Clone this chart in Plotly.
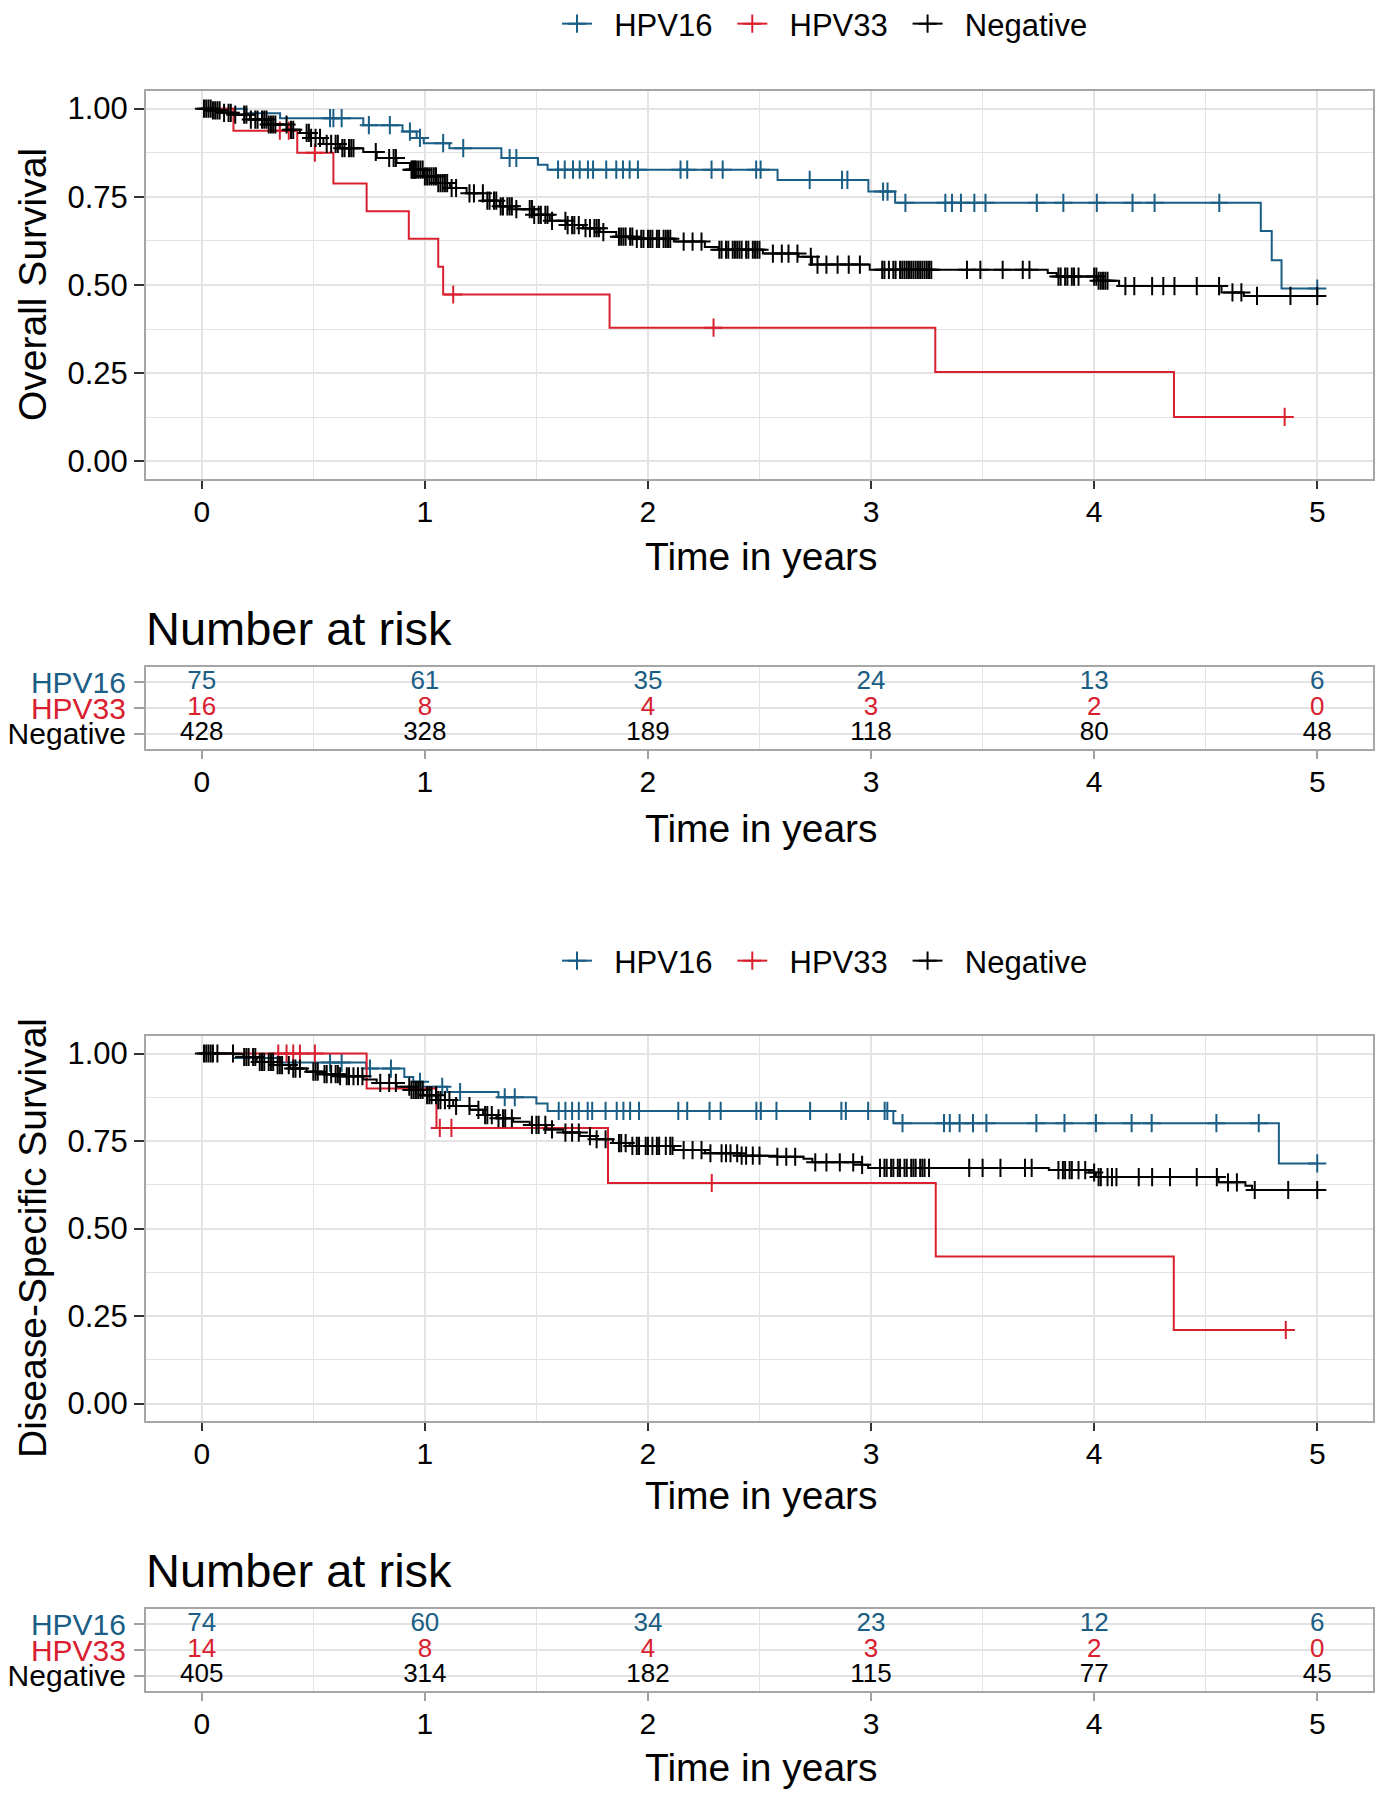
import numpy as np
import plotly.graph_objects as go

# page is photographed with the browser's 8px body margin, so the figure is
# sized to fit inside it and all page positions are converted with OFF.
PAGE_W, PAGE_H = 1386, 1800
OFF = 8
W, H = PAGE_W - 2 * OFF, PAGE_H - 2 * OFF
FONT = "Liberation Sans, Arial, Helvetica, sans-serif"

GROUPS = ["HPV16", "HPV33", "Negative"]
COLORS = {"HPV16": "#1A5E85", "HPV33": "#D9202F", "Negative": "#000000"}

# ---------------- Overall survival ----------------
os_hpv16_t = [0, 0.20, 0.351, 0.724, 0.90, 0.963, 0.995, 1.11, 1.343, 1.507, 1.55,
              2.581, 2.988, 3.108, 4.747, 4.796, 4.84, 5.0]
os_hpv16_s = [1.0, 0.987, 0.973, 0.953, 0.935, 0.917, 0.902, 0.888, 0.86, 0.841, 0.827,
              0.798, 0.765, 0.733, 0.653, 0.57, 0.49, 0.49]
os_hpv16_cens = [0.575, 0.59, 0.627, 0.749, 0.843, 0.933, 0.978, 1.082, 1.172, 1.38, 1.41,
                 1.597, 1.627, 1.664, 1.694, 1.731, 1.754, 1.813, 1.858, 1.888, 1.918, 1.955,
                 2.146, 2.176, 2.285, 2.335, 2.485, 2.505, 2.725, 2.87, 2.894, 3.054, 3.074,
                 3.154, 3.333, 3.363, 3.403, 3.463, 3.513, 3.743, 3.862, 4.012, 4.172, 4.271,
                 4.561, 5.0]

os_hpv33_t = [0, 0.142, 0.428, 0.59, 0.739, 0.928, 1.06, 1.082, 1.828, 3.288, 4.358, 4.854]
os_hpv33_s = [1.0, 0.9375, 0.875, 0.7875, 0.709, 0.631, 0.552, 0.473, 0.379, 0.253, 0.126, 0.126]
os_hpv33_cens = [0.35, 0.39, 0.507, 1.127, 2.294, 4.854]

os_neg_t = [0, 0.05, 0.10, 0.142, 0.216, 0.291, 0.381, 0.44, 0.485, 0.545, 0.619, 0.724,
            0.784, 0.873, 0.933, 0.993, 1.052, 1.112, 1.187, 1.261, 1.336, 1.41, 1.485,
            1.56, 1.634, 1.709, 1.784, 1.858, 1.933, 2.116, 2.255, 2.315, 2.515, 2.675,
            2.735, 2.994, 3.792, 3.832, 4.012, 4.112, 4.571, 4.671, 5.0]
os_neg_s = [1.0, 0.995, 0.988, 0.983, 0.969, 0.955, 0.940, 0.931, 0.917, 0.90, 0.888, 0.877,
            0.86, 0.846, 0.827, 0.808, 0.789, 0.775, 0.76, 0.739, 0.723, 0.715, 0.699,
            0.682, 0.67, 0.661, 0.65, 0.637, 0.631, 0.623, 0.608, 0.60, 0.589, 0.58,
            0.558, 0.543, 0.534, 0.524, 0.512, 0.497, 0.479, 0.469, 0.469]
os_neg_cens = [0.01, 0.02, 0.03, 0.04, 0.05, 0.06, 0.07, 0.08, 0.10, 0.12, 0.13, 0.15, 0.19,
               0.20, 0.22, 0.24, 0.25, 0.27, 0.28, 0.29, 0.30, 0.31, 0.32, 0.33, 0.38, 0.40,
               0.41, 0.47, 0.48, 0.49, 0.51, 0.53, 0.56, 0.58, 0.60, 0.61, 0.63, 0.64, 0.66,
               0.67, 0.68, 0.78, 0.84, 0.86, 0.87, 0.94, 0.945, 0.95, 0.955, 0.96, 0.97, 0.98,
               0.99, 1.0, 1.01, 1.02, 1.03, 1.04, 1.05, 1.06, 1.07, 1.08, 1.09, 1.10, 1.12,
               1.14, 1.20, 1.22, 1.26, 1.28, 1.29, 1.31, 1.32, 1.34, 1.35, 1.37, 1.38, 1.39,
               1.41, 1.47, 1.48, 1.49, 1.51, 1.52, 1.54, 1.55, 1.57, 1.63, 1.64, 1.66, 1.67,
               1.69, 1.72, 1.74, 1.76, 1.77, 1.78, 1.80, 1.87, 1.88, 1.89, 1.90, 1.92, 1.93,
               1.95, 1.97, 1.98, 2.0, 2.01, 2.02, 2.04, 2.05, 2.07, 2.08, 2.09, 2.10, 2.16,
               2.20, 2.24, 2.32, 2.33, 2.35, 2.36, 2.38, 2.39, 2.40, 2.41, 2.42, 2.44, 2.45,
               2.47, 2.48, 2.49, 2.50, 2.56, 2.60, 2.63, 2.67, 2.73, 2.76, 2.80, 2.85, 2.90,
               2.95, 3.05, 3.06, 3.08, 3.10, 3.11, 3.13, 3.14, 3.15, 3.16, 3.17, 3.18, 3.19,
               3.20, 3.21, 3.22, 3.23, 3.24, 3.25, 3.26, 3.27, 3.43, 3.49, 3.59, 3.68, 3.71,
               3.84, 3.85, 3.87, 3.88, 3.90, 3.91, 3.93, 4.0, 4.01, 4.02, 4.03, 4.04, 4.05,
               4.06, 4.14, 4.18, 4.26, 4.31, 4.36, 4.46, 4.56, 4.62, 4.66, 4.73, 4.88, 5.0]

# ---------------- Disease-specific survival ----------------
dss_hpv16_t = [0, 0.14, 0.35, 0.737, 0.908, 0.948, 0.99, 1.10, 1.33, 1.50, 1.55, 3.10, 4.828, 5.0]
dss_hpv16_s = [1.0, 0.987, 0.974, 0.957, 0.933, 0.919, 0.905, 0.89, 0.875, 0.857, 0.836,
               0.801, 0.686, 0.686]
dss_hpv16_cens = [0.575, 0.627, 0.754, 0.848, 0.978, 1.078, 1.158, 1.358, 1.403, 1.60, 1.63,
                  1.66, 1.69, 1.73, 1.75, 1.81, 1.86, 1.89, 1.92, 1.96, 2.136, 2.176, 2.276,
                  2.326, 2.486, 2.506, 2.576, 2.727, 2.867, 2.887, 2.987, 3.061, 3.073, 3.141,
                  3.327, 3.353, 3.397, 3.457, 3.517, 3.741, 3.867, 4.008, 4.168, 4.258, 4.548,
                  4.738, 5.0]

dss_hpv33_t = [0, 0.739, 1.052, 1.821, 3.29, 4.357, 4.859]
dss_hpv33_s = [1.0, 0.9, 0.7875, 0.63, 0.42, 0.21, 0.21]
dss_hpv33_cens = [0.343, 0.38, 0.41, 0.44, 0.507, 1.067, 1.119, 2.286, 4.859]

dss_neg_t = [0, 0.142, 0.187, 0.246, 0.321, 0.396, 0.47, 0.545, 0.619, 0.724, 0.784, 0.873,
             0.933, 0.993, 1.052, 1.127, 1.201, 1.261, 1.321, 1.396, 1.47, 1.545, 1.619,
             1.694, 1.769, 1.843, 1.918, 2.116, 2.256, 2.416, 2.576, 2.697, 2.737, 2.957,
             2.987, 3.797, 3.978, 4.008, 4.558, 4.678, 4.708, 5.0]
dss_neg_s = [1.0, 0.998, 0.99, 0.976, 0.967, 0.957, 0.948, 0.941, 0.935, 0.926, 0.916, 0.905,
             0.896, 0.881, 0.867, 0.85, 0.839, 0.824, 0.815, 0.805, 0.796, 0.783, 0.774,
             0.764, 0.755, 0.744, 0.736, 0.724, 0.715, 0.708, 0.705, 0.699, 0.689, 0.682,
             0.673, 0.667, 0.66, 0.647, 0.632, 0.622, 0.61, 0.61]
dss_neg_cens = [0.01, 0.02, 0.03, 0.04, 0.05, 0.07, 0.14, 0.19, 0.20, 0.21, 0.23, 0.24, 0.26,
                0.27, 0.28, 0.30, 0.31, 0.32, 0.34, 0.35, 0.36, 0.39, 0.41, 0.42, 0.44, 0.50,
                0.51, 0.52, 0.55, 0.56, 0.58, 0.60, 0.61, 0.62, 0.65, 0.66, 0.68, 0.70, 0.72,
                0.80, 0.84, 0.87, 0.93, 0.94, 0.95, 0.96, 0.97, 0.98, 0.99, 1.01, 1.02, 1.03,
                1.05, 1.06, 1.07, 1.09, 1.11, 1.14, 1.20, 1.24, 1.27, 1.28, 1.30, 1.33, 1.35,
                1.36, 1.39, 1.48, 1.50, 1.51, 1.54, 1.57, 1.63, 1.66, 1.69, 1.74, 1.77, 1.81,
                1.87, 1.88, 1.90, 1.93, 1.95, 1.96, 1.99, 2.0, 2.02, 2.04, 2.05, 2.08, 2.10,
                2.11, 2.16, 2.20, 2.24, 2.28, 2.33, 2.35, 2.37, 2.40, 2.42, 2.44, 2.47, 2.50,
                2.58, 2.62, 2.66, 2.75, 2.80, 2.86, 2.92, 2.96, 3.04, 3.06, 3.07, 3.09, 3.10,
                3.12, 3.13, 3.15, 3.16, 3.18, 3.19, 3.20, 3.22, 3.23, 3.24, 3.26, 3.44, 3.50,
                3.58, 3.69, 3.72, 3.84, 3.86, 3.87, 3.89, 3.90, 3.93, 3.96, 4.0, 4.02, 4.03,
                4.06, 4.08, 4.10, 4.20, 4.26, 4.34, 4.46, 4.55, 4.60, 4.64, 4.72, 4.87, 5.0]

# ---------------- Numbers at risk ----------------
risk_times = [0, 1, 2, 3, 4, 5]
os_risk = {"HPV16": [75, 61, 35, 24, 13, 6],
           "HPV33": [16, 8, 4, 3, 2, 0],
           "Negative": [428, 328, 189, 118, 80, 48]}
dss_risk = {"HPV16": [74, 60, 34, 23, 12, 6],
            "HPV33": [14, 8, 4, 3, 2, 0],
            "Negative": [405, 314, 182, 115, 77, 45]}
row_pos = {"HPV16": 3, "HPV33": 2, "Negative": 1}

x_ticks = [0, 1, 2, 3, 4, 5]
y_ticks = [0, 0.25, 0.5, 0.75, 1.0]
y_ticklabels = ["0.00", "0.25", "0.50", "0.75", "1.00"]

os_curves = {"HPV16": (os_hpv16_t, os_hpv16_s, os_hpv16_cens),
             "HPV33": (os_hpv33_t, os_hpv33_s, os_hpv33_cens),
             "Negative": (os_neg_t, os_neg_s, os_neg_cens)}
dss_curves = {"HPV16": (dss_hpv16_t, dss_hpv16_s, dss_hpv16_cens),
              "HPV33": (dss_hpv33_t, dss_hpv33_s, dss_hpv33_cens),
              "Negative": (dss_neg_t, dss_neg_s, dss_neg_cens)}


def step_at(t, s, q):
    t = np.asarray(t); s = np.asarray(s)
    idx = np.searchsorted(t, np.asarray(q), side="right") - 1
    idx = np.clip(idx, 0, len(s) - 1)
    return s[idx]


def px_x(x):
    return (x - OFF) / W


def px_y(y):
    return 1 - (y - OFF) / H


def ydom(top, bottom):
    return [px_y(bottom), px_y(top)]


NB = "\u00a0"
THIN = "\u2009"


def legend_label(g):
    return NB + NB + g + NB + THIN


fig = go.Figure()
MARK = dict(symbol="cross-thin", size=13)


def add_km(curves, xa, ya, legend_name):
    for g in GROUPS:
        t, s, c = curves[g]
        col = COLORS[g]
        fig.add_trace(go.Scatter(x=t, y=s, mode="lines", line=dict(color=col, width=2, shape="hv"),
                                 xaxis=xa, yaxis=ya, showlegend=False, hoverinfo="skip"))
        fig.add_trace(go.Scatter(x=c, y=step_at(t, s, c), mode="markers",
                                 marker=dict(**MARK, color=col, line=dict(color=col, width=2)),
                                 xaxis=xa, yaxis=ya, showlegend=False, hoverinfo="skip"))
    for g in GROUPS:
        col = COLORS[g]
        fig.add_trace(go.Scatter(x=[None], y=[None], mode="lines+markers", name=legend_label(g),
                                 line=dict(color=col, width=2),
                                 marker=dict(**MARK, color=col, line=dict(color=col, width=2)),
                                 xaxis=xa, yaxis=ya, legend=legend_name))


def add_table(risk, xa, ya):
    for g in GROUPS:
        fig.add_trace(go.Scatter(x=risk_times, y=[row_pos[g]] * len(risk_times), mode="text",
                                 text=[str(v) for v in risk[g]],
                                 textfont=dict(family=FONT, size=26, color=COLORS[g]),
                                 xaxis=xa, yaxis=ya, showlegend=False, hoverinfo="skip"))


add_km(os_curves, "x", "y", "legend")
add_table(os_risk, "x2", "y2")
add_km(dss_curves, "x3", "y3", "legend2")
add_table(dss_risk, "x4", "y4")

XDOM = [px_x(146), px_x(1373)]
GRID = "#E3E3E3"
BORDER = "#A6A6A6"

main_x = dict(domain=XDOM, range=[-0.25, 5.25], tickmode="array", tickvals=x_ticks,
              ticktext=[str(v) for v in x_ticks],
              showgrid=True, gridcolor=GRID, gridwidth=1.5,
              minor=dict(tickmode="array", tickvals=[0.5, 1.5, 2.5, 3.5, 4.5], showgrid=True,
                         gridcolor=GRID, gridwidth=1.2, ticks=""),
              ticks="outside", ticklen=8, tickwidth=1.5, tickcolor="#333333",
              ticklabelstandoff=-3,
              showline=True, mirror=True, linecolor=BORDER, linewidth=2, zeroline=False,
              tickfont=dict(family=FONT, size=30, color="#000000"), fixedrange=True)
main_y = dict(range=[-0.05, 1.05], tickmode="array", tickvals=y_ticks, ticktext=y_ticklabels,
              showgrid=True, gridcolor=GRID, gridwidth=1.5,
              minor=dict(tickmode="array", tickvals=[0.125, 0.375, 0.625, 0.875], showgrid=True,
                         gridcolor=GRID, gridwidth=1.2, ticks=""),
              ticks="outside", ticklen=10, tickwidth=1.5, tickcolor="#333333",
              ticklabelstandoff=0,
              showline=True, mirror=True, linecolor=BORDER, linewidth=2, zeroline=False,
              tickfont=dict(family=FONT, size=31, color="#000000"), fixedrange=True)
tab_x = dict(domain=XDOM, range=[-0.25, 5.25], tickmode="array", tickvals=x_ticks,
             ticktext=[str(v) for v in x_ticks], showgrid=False,
             minor=dict(tickmode="array", tickvals=[0.5, 1.5, 2.5, 3.5, 4.5], showgrid=True,
                        gridcolor=GRID, gridwidth=1.2, ticks=""),
             ticks="outside", ticklen=8, tickwidth=1.5, tickcolor="#A0A0A0",
             ticklabelstandoff=-3,
             showline=True, mirror=True, linecolor=BORDER, linewidth=2, zeroline=False,
             tickfont=dict(family=FONT, size=30, color="#000000"), fixedrange=True)
tab_y = dict(range=[0.4, 3.6], tickmode="array", tickvals=[row_pos[g] for g in GROUPS],
             ticktext=["<span style='color:%s'>%s</span>" % (COLORS[g], g) for g in GROUPS],
             showgrid=True, gridcolor=GRID, gridwidth=1.5,
             ticks="outside", ticklen=10, tickwidth=1.5, tickcolor="#A0A0A0",
             ticklabelstandoff=2,
             showline=True, mirror=True, linecolor=BORDER, linewidth=2, zeroline=False,
             tickfont=dict(family=FONT, size=30, color="#000000"), fixedrange=True)

LEG = dict(orientation="h", xanchor="left", yanchor="middle",
           font=dict(family=FONT, size=31, color="#000000"), bgcolor="rgba(0,0,0,0)",
           itemwidth=30, itemclick=False)

fig.update_layout(
    width=W, height=H, autosize=False,
    margin=dict(l=0, r=0, t=0, b=0, autoexpand=False),
    paper_bgcolor="white", plot_bgcolor="white",
    font=dict(family=FONT, color="#000000"),
    xaxis=dict(main_x, anchor="y"),
    yaxis=dict(main_y, domain=ydom(91, 479), anchor="x"),
    xaxis2=dict(tab_x, anchor="y2"),
    yaxis2=dict(tab_y, domain=ydom(667, 749), anchor="x2"),
    xaxis3=dict(main_x, anchor="y3"),
    yaxis3=dict(main_y, domain=ydom(1036, 1421), anchor="x3"),
    xaxis4=dict(tab_x, anchor="y4"),
    yaxis4=dict(tab_y, domain=ydom(1609, 1691), anchor="x4"),
    legend=dict(LEG, x=(557 - OFF) / W, y=px_y(24)),
    legend2=dict(LEG, x=(557 - OFF) / W, y=px_y(961)),
)

TITLE_FONT = dict(family=FONT, size=39, color="#000000")
ann = []
for yc in [556, 828, 1495, 1767]:
    ann.append(dict(text="Time in years", x=px_x(761), y=px_y(yc), xref="paper", yref="paper",
                    xanchor="center", yanchor="middle", showarrow=False, font=TITLE_FONT))
ann.append(dict(text="Overall Survival", x=px_x(32), y=px_y(285), xref="paper", yref="paper",
                xanchor="center", yanchor="middle", showarrow=False, textangle=-90, font=TITLE_FONT))
ann.append(dict(text="Disease-Specific Survival", x=px_x(32), y=px_y(1238), xref="paper",
                yref="paper", xanchor="center", yanchor="middle", showarrow=False, textangle=-90,
                font=TITLE_FONT))
for yc in [628, 1570]:
    ann.append(dict(text="Number at risk", x=px_x(144), y=px_y(yc), xref="paper", yref="paper",
                    xanchor="left", yanchor="middle", showarrow=False,
                    font=dict(family=FONT, size=47, color="#000000")))
fig.update_layout(annotations=ann)

fig.write_html("out.html")
